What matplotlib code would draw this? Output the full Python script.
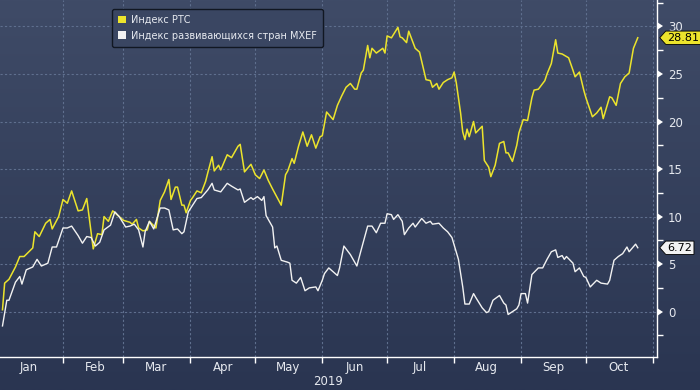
import numpy as np
import pandas as pd
import matplotlib
matplotlib.use('Agg')
import matplotlib.pyplot as plt
import matplotlib.dates as mdates
from matplotlib.path import Path
from matplotlib.patches import Patch
from matplotlib.ticker import MultipleLocator, NullFormatter

# days after 2019-01-01 and cumulative change, %
rts_days = [3, 4, 6, 9, 11, 13, 17, 18, 20, 23, 25, 26, 29, 31, 33, 35, 38, 40, 42, 45,
            47, 49, 50, 52, 54, 56, 59, 62, 63, 65, 66, 68, 70, 71, 74, 76, 78, 80, 81, 83,
            84, 86, 87, 88, 90, 91, 93, 95, 97, 98, 100, 101, 103, 104, 107, 109, 112, 113, 115, 118,
            120, 122, 124, 126, 128, 132, 134, 135, 137, 138, 140, 142, 144, 146, 148, 150, 151, 153, 156, 158,
            160, 162, 164, 166, 167, 169, 170, 172, 173, 174, 176, 179, 180, 181, 183, 186, 187, 188, 190, 191,
            194, 196, 198, 199, 201, 202, 204, 205, 207, 209, 211, 212, 213, 215, 216, 217, 218, 219, 221, 222,
            225, 226, 228, 229, 231, 233, 235, 236, 237, 239, 241, 242, 244, 246, 248, 249, 251, 254, 255, 257,
            259, 260, 262, 265, 267, 268, 270, 272, 273, 276, 278, 280, 281, 284, 285, 287, 289, 291, 293, 295,
            297]
rts = [0.2, 3.0, 3.4, 4.7, 5.8, 5.8, 6.7, 8.4, 7.9, 9.3, 9.7, 8.7, 10.0, 11.8, 11.4, 12.7, 10.6, 10.7, 11.9, 6.6,
       8.2, 8.1, 10.0, 9.5, 10.6, 10.2, 9.6, 9.4, 9.2, 9.7, 8.8, 8.5, 8.6, 9.5, 8.8, 11.7, 12.6, 13.9, 11.8, 13.1,
       13.1, 11.2, 11.2, 10.4, 11.7, 12.0, 12.7, 12.5, 13.7, 14.6, 16.3, 14.8, 15.4, 14.9, 16.5, 16.2, 17.4, 17.6, 14.7, 15.5,
       14.4, 14.0, 14.9, 13.8, 12.9, 11.2, 14.4, 14.8, 16.1, 15.6, 17.4, 18.9, 17.4, 18.6, 17.2, 18.4, 18.5, 21.0, 20.2, 21.7,
       22.7, 23.6, 24.0, 23.4, 23.4, 25.1, 25.4, 28.0, 26.7, 27.7, 27.2, 27.7, 27.2, 29.0, 28.8, 29.9, 28.9, 28.8, 28.3, 29.5,
       27.7, 27.3, 25.4, 24.4, 24.3, 23.6, 24.0, 23.4, 24.1, 24.4, 24.6, 25.2, 24.1, 20.9, 18.9, 18.1, 19.2, 18.4, 20.0, 18.8,
       19.5, 15.9, 15.2, 14.2, 15.4, 17.7, 17.9, 16.7, 16.7, 15.8, 17.5, 18.8, 20.2, 20.1, 22.5, 23.3, 23.4, 24.3, 25.0, 26.1,
       28.6, 27.2, 27.1, 26.7, 25.4, 24.7, 25.2, 23.3, 22.5, 20.5, 20.9, 21.5, 20.3, 22.6, 22.5, 21.7, 24.0, 24.7, 25.1, 27.7,
       28.81]

mxef_days = [3, 5, 6, 9, 11, 12, 14, 17, 19, 21, 24, 26, 28, 31, 33, 35, 38, 40, 42, 44,
             46, 48, 50, 53, 55, 57, 60, 62, 64, 66, 68, 69, 71, 73, 76, 78, 80, 82, 84, 86,
             87, 89, 91, 93, 95, 98, 100, 101, 104, 107, 109, 112, 113, 115, 118, 119, 121, 123, 124, 125,
             128, 129, 130, 132, 135, 136, 137, 139, 141, 143, 145, 148, 149, 151, 152, 154, 156, 158, 159, 161,
             164, 167, 169, 172, 174, 176, 178, 180, 181, 183, 184, 186, 188, 189, 191, 193, 194, 197, 199, 201,
             202, 205, 207, 209, 211, 214, 216, 217, 219, 221, 222, 225, 227, 228, 230, 233, 235, 236, 237, 239,
             241, 242, 243, 245, 246, 248, 251, 253, 255, 257, 259, 260, 262, 263, 264, 267, 268, 270, 272, 273,
             275, 278, 280, 283, 284, 286, 288, 290, 292, 293, 296, 297]
mxef = [-1.5, 1.2, 1.2, 3.1, 3.7, 2.9, 4.4, 4.7, 5.5, 4.8, 5.1, 6.8, 6.8, 8.8, 8.8, 9.0, 8.0, 7.2, 7.9, 7.8,
        6.9, 7.3, 8.6, 9.1, 10.5, 10.0, 8.9, 9.0, 9.2, 8.6, 6.8, 8.4, 9.5, 8.7, 10.9, 10.9, 10.7, 8.6, 8.7, 8.2,
        8.4, 10.5, 11.2, 11.9, 12.0, 12.8, 13.5, 12.8, 12.6, 13.5, 13.2, 12.8, 12.9, 11.5, 12.0, 11.8, 12.1, 11.7, 12.1, 10.1,
        8.9, 6.7, 6.9, 5.4, 5.2, 5.1, 3.3, 3.0, 3.6, 2.2, 2.5, 2.6, 2.2, 3.3, 4.0, 4.6, 4.2, 3.8, 4.6, 6.9,
        6.0, 4.8, 6.5, 9.0, 9.0, 8.3, 9.3, 9.3, 10.3, 10.2, 9.7, 10.2, 9.5, 8.1, 8.8, 9.3, 8.9, 9.8, 9.3, 9.5,
        9.2, 9.3, 8.8, 8.4, 7.8, 5.5, 2.6, 0.8, 0.8, 1.9, 1.5, 0.4, -0.1, 0.0, 1.2, 1.7, 0.9, 0.7, -0.3, 0.0,
        0.3, 0.7, 1.9, 1.9, 0.9, 3.9, 4.6, 4.6, 5.5, 6.3, 6.5, 5.7, 5.9, 5.5, 5.8, 5.1, 4.2, 4.6, 3.7, 3.6,
        2.6, 3.3, 3.0, 2.9, 3.3, 5.4, 5.8, 6.1, 6.8, 6.3, 7.1, 6.72]

labels = ['Индекс РТС', 'Индекс развивающихся стран MXEF']

start = pd.Timestamp('2019-01-01')
rts_dates = start + pd.to_timedelta(rts_days, unit='D')
mxef_dates = start + pd.to_timedelta(mxef_days, unit='D')

yellow = '#ece42c'
white = '#f2f2f2'
txt = '#e6e9ef'
grid_c = '#5f6f8e'

fig = plt.figure(figsize=(7, 3.9), dpi=100)

# background gradient
bg = fig.add_axes([0, 0, 1, 1], zorder=0)
grad = np.linspace(0, 1, 256).reshape(-1, 1)
cmap = matplotlib.colors.LinearSegmentedColormap.from_list('bg', ['#2a3551', '#3f4b67'])
bg.imshow(grad, aspect='auto', cmap=cmap, origin='lower', extent=[0, 1, 0, 1])
bg.axis('off')

ax = fig.add_axes([0, 33 / 390, 657 / 700, 357 / 390], zorder=1)
ax.set_facecolor('none')

ax.plot(rts_dates, rts, color=yellow, lw=1.1, zorder=3)
ax.plot(mxef_dates, mxef, color=white, lw=1.0, zorder=3)

ax.set_xlim(start + pd.Timedelta(days=1.85), start + pd.Timedelta(days=305.9))
ax.set_ylim(-4.77, 32.78)

# spines
for s in ['top', 'left']:
    ax.spines[s].set_visible(False)
for s in ['right', 'bottom']:
    ax.spines[s].set_color('white')
    ax.spines[s].set_linewidth(1.0)

# x axis: ticks at month starts, labels mid-month
ax.xaxis.set_major_locator(mdates.MonthLocator())
ax.xaxis.set_major_formatter(NullFormatter())
ax.xaxis.set_minor_locator(mdates.MonthLocator(bymonthday=16))
ax.xaxis.set_minor_formatter(mdates.DateFormatter('%b'))
ax.tick_params(axis='x', which='major', length=4, color='white', width=1)
ax.tick_params(axis='x', which='minor', length=0, labelsize=8.5, labelcolor=txt, pad=3)
ax.text(0.5, -0.07, '2019', transform=ax.transAxes, ha='center', va='center',
        fontsize=8.5, color=txt)

# y axis on the right
ax.yaxis.tick_right()
ax.yaxis.set_major_locator(MultipleLocator(5))
ax.yaxis.set_minor_locator(MultipleLocator(2.5))
ax.tick_params(axis='y', which='major', length=0, labelsize=8.5, labelcolor=txt, pad=8)
ax.tick_params(axis='y', which='minor', length=4, color='white', width=1)
for t in ax.yaxis.get_major_ticks():
    t.tick2line.set_marker(9)
    t.tick2line.set_markersize(6)
    t.tick2line.set_color('white')
    t.tick2line.set_markeredgewidth(0)

ax.grid(True, which='major', color=grid_c, lw=0.8, ls=(0, (2, 2)))

# last value tags
def tag_box(x0, y0, width, height, mutation_size):
    pad = mutation_size * 0.15
    x0, y0 = x0 - pad, y0 - pad
    w, h = width + 2 * pad, height + 2 * pad
    tip = h * 0.45
    verts = [(x0 - tip, y0 + h / 2), (x0, y0), (x0 + w, y0), (x0 + w, y0 + h),
             (x0, y0 + h), (x0 - tip, y0 + h / 2)]
    return Path(verts, closed=True)

for val, fc in [(rts[-1], yellow), (mxef[-1], white)]:
    ax.annotate(f'{val:.2f}', xy=(1, val), xycoords=ax.get_yaxis_transform(),
                xytext=(7.5, 0), textcoords='offset points', ha='left', va='center',
                fontsize=8, color='black', zorder=5, annotation_clip=False,
                bbox=dict(boxstyle=tag_box, fc=fc, ec='black', lw=0.6))

# legend with square markers
handles = [Patch(facecolor=yellow, edgecolor='none'), Patch(facecolor=white, edgecolor='none')]
leg = ax.legend(handles, labels, loc='upper left', bbox_to_anchor=(112 / 657, 1 - 9 / 357),
                borderaxespad=0, frameon=True, fancybox=True, fontsize=7,
                handlelength=0.85, handleheight=0.85, handletextpad=0.5,
                borderpad=0.6, labelspacing=0.6, labelcolor=txt)
leg.get_frame().set_facecolor('#3a4662')
leg.get_frame().set_edgecolor('#111722')
leg.get_frame().set_alpha(1)

fig.savefig('out.png', dpi=100)
